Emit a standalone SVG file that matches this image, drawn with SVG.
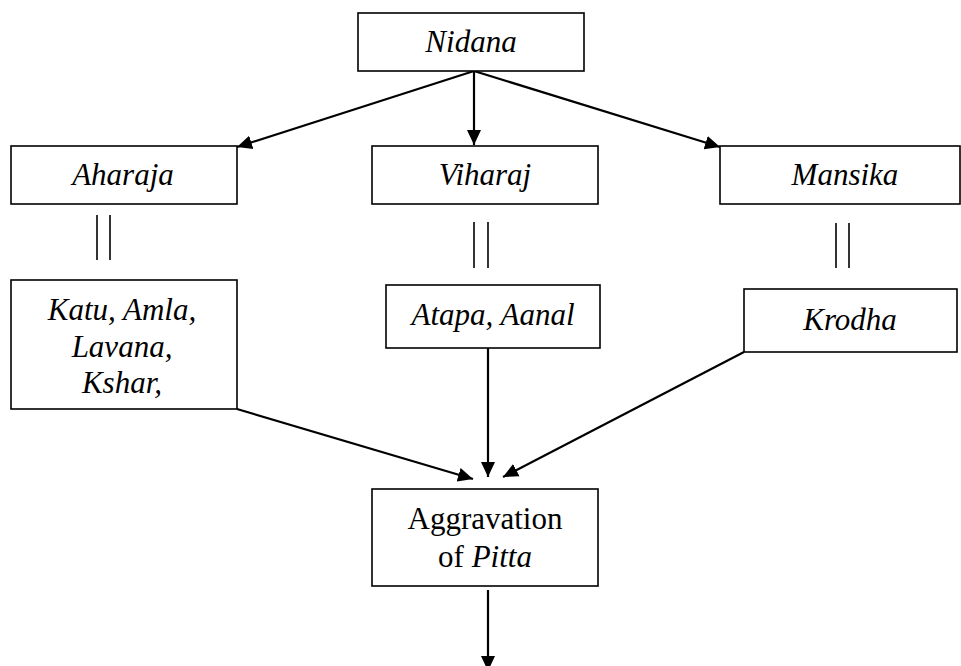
<svg xmlns="http://www.w3.org/2000/svg" width="961" height="666" viewBox="0 0 961 666">
  <style>
    .box { fill: #fff; stroke: #000; stroke-width: 1.6; }
    .t { font-family: 'Liberation Serif', 'DejaVu Serif', serif; font-size: 31px; fill: #000; text-anchor: middle; }
    .i { font-style: italic; }
    .conn { stroke: #000; stroke-width: 2.2; fill: none; }
    .dbl { stroke: #000; stroke-width: 1.6; fill: none; }
  </style>
  <defs>
    <marker id="arr" markerUnits="userSpaceOnUse" markerWidth="16" markerHeight="16" viewBox="0 0 16 16" refX="15" refY="8" orient="auto">
      <path d="M0,1 L15,8 L0,15 Z" fill="#000"/>
    </marker>
  </defs>
  <rect width="961" height="666" fill="#fff"/>

  <g id="connectors">
    <line class="conn" x1="474" y1="71" x2="237" y2="147" marker-end="url(#arr)"/>
    <line class="conn" x1="474" y1="71" x2="474" y2="145" marker-end="url(#arr)"/>
    <line class="conn" x1="474" y1="71" x2="720" y2="147" marker-end="url(#arr)"/>
    <line class="dbl" x1="97" y1="215" x2="97" y2="260"/>
    <line class="dbl" x1="110" y1="215" x2="110" y2="260"/>
    <line class="dbl" x1="474" y1="222" x2="474" y2="268"/>
    <line class="dbl" x1="488" y1="222" x2="488" y2="268"/>
    <line class="dbl" x1="836" y1="223" x2="836" y2="268"/>
    <line class="dbl" x1="849" y1="223" x2="849" y2="268"/>
    <line class="conn" x1="237" y1="409" x2="473" y2="479" marker-end="url(#arr)"/>
    <line class="conn" x1="488" y1="348" x2="488" y2="477" marker-end="url(#arr)"/>
    <line class="conn" x1="744" y1="352" x2="503" y2="477" marker-end="url(#arr)"/>
    <line class="conn" x1="488" y1="590" x2="488" y2="671" marker-end="url(#arr)"/>
  </g>

  <g id="nidana">
    <rect class="box" x="358" y="13" width="226" height="58"/>
    <text class="t i" x="471" y="52" font-family="Liberation Serif, DejaVu Serif, serif">Nidana</text>
  </g>
  <g id="aharaja">
    <rect class="box" x="11" y="146" width="226" height="58"/>
    <text class="t i" x="123" y="185">Aharaja</text>
  </g>
  <g id="viharaj">
    <rect class="box" x="372" y="146" width="226" height="58"/>
    <text class="t i" x="485" y="185">Viharaj</text>
  </g>
  <g id="mansika">
    <rect class="box" x="720" y="146" width="240" height="58"/>
    <text class="t i" x="845" y="185">Mansika</text>
  </g>
  <g id="katu">
    <rect class="box" x="11" y="280" width="226" height="129"/>
    <text class="t i" x="122" y="320">Katu, Amla,</text>
    <text class="t i" x="122" y="357">Lavana,</text>
    <text class="t i" x="122" y="393">Kshar,</text>
  </g>
  <g id="atapa">
    <rect class="box" x="386" y="285" width="214" height="63"/>
    <text class="t i" x="493" y="325">Atapa, Aanal</text>
  </g>
  <g id="krodha">
    <rect class="box" x="744" y="289" width="213" height="63"/>
    <text class="t i" x="850" y="330">Krodha</text>
  </g>
  <g id="aggravation">
    <rect class="box" x="372" y="489" width="226" height="97"/>
    <text class="t" x="485" y="529">Aggravation</text>
    <text class="t" x="485" y="567">of <tspan class="i">Pitta</tspan></text>
  </g>
</svg>
